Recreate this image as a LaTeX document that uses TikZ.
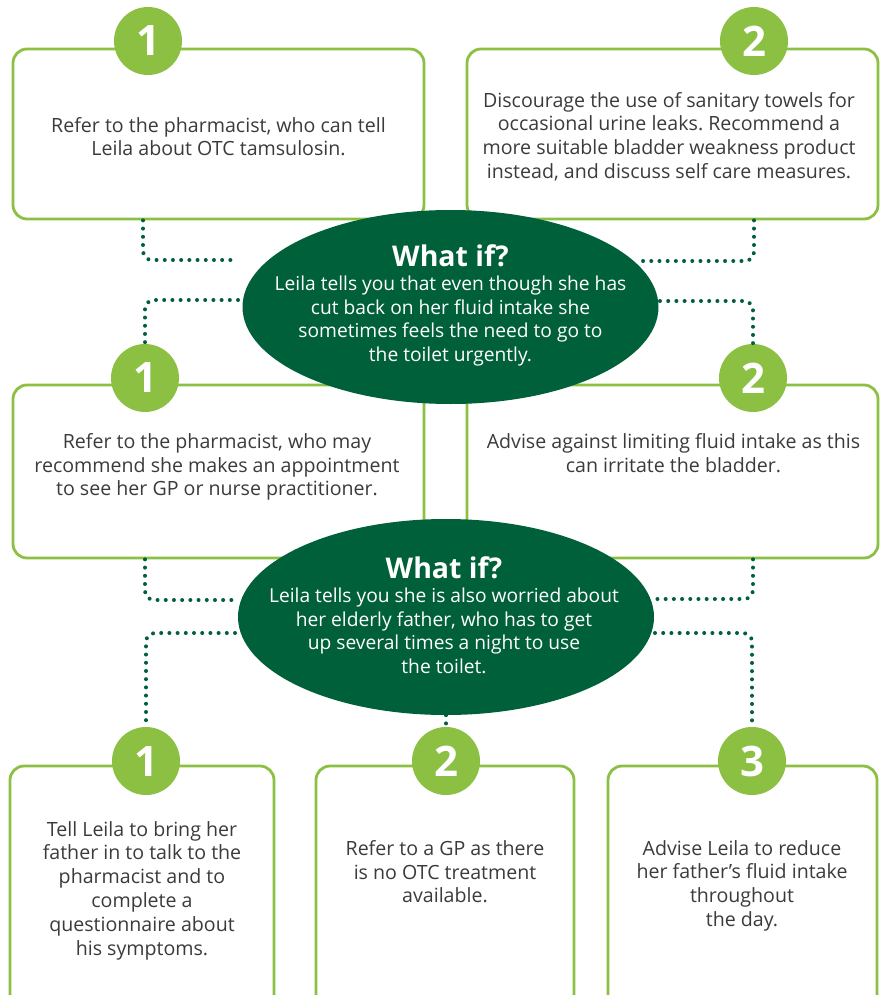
\documentclass[tikz,border=0pt]{standalone}
\usepackage{fontspec}
\setmainfont{Open Sans}
\usetikzlibrary{shapes.geometric}
\definecolor{leaf}{HTML}{8BC043}
\definecolor{forest}{HTML}{00603A}
\definecolor{ink}{HTML}{3B3B3B}
\frenchspacing

\begin{document}
\begin{tikzpicture}[x=1pt,y=-1pt,
   card/.style={draw=leaf,line width=2.8pt,rounded corners=14pt,inner sep=0pt,fill=white},
   badge/.style={circle,fill=leaf,minimum size=68pt,inner sep=0pt,text=white,
                 font=\fontsize{42}{42}\selectfont\bfseries},
   cloud/.style={ellipse,fill=forest,inner sep=0pt},
   body/.style={text=ink,align=center,inner sep=0pt,anchor=north,
                font=\fontsize{19.6}{23.8}\selectfont},
   ask/.style={body,text=white,font=\fontsize{19.2}{23.8}\selectfont},
   dotline/.style={forest,line width=4pt,line cap=round,
                   dash pattern=on 0pt off 8.2pt,rounded corners=9pt}]

\useasboundingbox (0,0) rectangle (881,995);
\clip (0,0) rectangle (881,995);

% cards
\node[card,minimum width=411pt,minimum height=170pt] (tl) at (218.5,134) {};
\node[card,minimum width=411pt,minimum height=170pt] (tr) at (672.5,134) {};
\node[card,minimum width=411pt,minimum height=173pt] (ml) at (218.5,471.5) {};
\node[card,minimum width=411pt,minimum height=173pt] (mr) at (672.5,471.5) {};
\node[card,minimum width=264pt,minimum height=250pt] (bl) at (142,891) {};
\node[card,minimum width=258pt,minimum height=250pt] (bm) at (445,891) {};
\node[card,minimum width=269pt,minimum height=250pt] (br) at (742.5,891) {};

% free ends of the dotted links
\coordinate (a1) at (238,260);
\coordinate (a2) at (640,261);
\coordinate (a3) at (238,300);
\coordinate (a4) at (660,301);
\coordinate (a5) at (235,600);
\coordinate (a6) at (652,599);
\coordinate (a7) at (235,633);
\coordinate (a8) at (655,633);

% numbers
\node[badge] (n1) at (148,41) {1};
\node[badge] (n2) at (754,41) {2};
\node[badge] (n3) at (145,378) {1};
\node[badge] (n4) at (753,378) {2};
\node[badge] (n5) at (146,761) {1};
\node[badge] (n6) at (446,761) {2};
\node[badge] (n7) at (752,761) {3};

\draw[dotline] ([xshift=-75.5pt]tl.south) |- (a1);
\draw[dotline] (tr.south -| n2) |- (a2);
\draw[dotline] (a3) -| (n3.north);
\draw[dotline] (a4) -| (n4.north);
\draw[dotline] (ml.south -| n3) |- (a5);
\draw[dotline] (mr.south -| n4) |- (a6);
\draw[dotline] (a7) -| (n5.north);
\draw[dotline] (a8) -| (n7.north);

% questions
\node[cloud,minimum width=416pt,minimum height=194pt] (what1) at (450.5,307) {};
\node[cloud,minimum width=416pt,minimum height=196pt] (what2) at (446,617) {};
\draw[dotline] (what2.south) -- (n6.north);

\node[ask] (q1) at (450.5,244.5) {{\fontsize{28.5}{29}\selectfont\bfseries What if?}\\
  Leila tells you that even though she has\\cut back on her fluid intake she\\
  sometimes feels the need to go to\\the toilet urgently.};
\node[ask] (q2) at (444,556.5) {{\fontsize{28.5}{29}\selectfont\bfseries What if?}\\
  Leila tells you she is also worried about\\her elderly father, who has to get\\
  up several times a night to use\\the toilet.};

% answers
\node[body] (t1) at (218.5,117) {Refer to the pharmacist, who can tell\\Leila about OTC tamsulosin.};
\node[body] (t2) at (669,92) {Discourage the use of sanitary towels for\\occasional urine leaks. Recommend a\\
  more suitable bladder weakness product\\instead, and discuss self care measures.};
\node[body] (t3) at (217,433) {Refer to the pharmacist, who may\\recommend she makes an appointment\\
  to see her GP or nurse practitioner.};
\node[body] (t4) at (673.5,433) {Advise against limiting fluid intake as this\\can irritate the bladder.};
\node[body] (t5) at (142,821) {Tell Leila to bring her\\father in to talk to the\\pharmacist and to\\
  complete a\\questionnaire about\\his symptoms.};
\node[body] (t6) at (445,840) {Refer to a GP as there\\is no OTC treatment\\available.};
\node[body] (t7) at (742,840) {Advise Leila to reduce\\her father’s fluid intake\\throughout\\the day.};

\end{tikzpicture}
\end{document}
